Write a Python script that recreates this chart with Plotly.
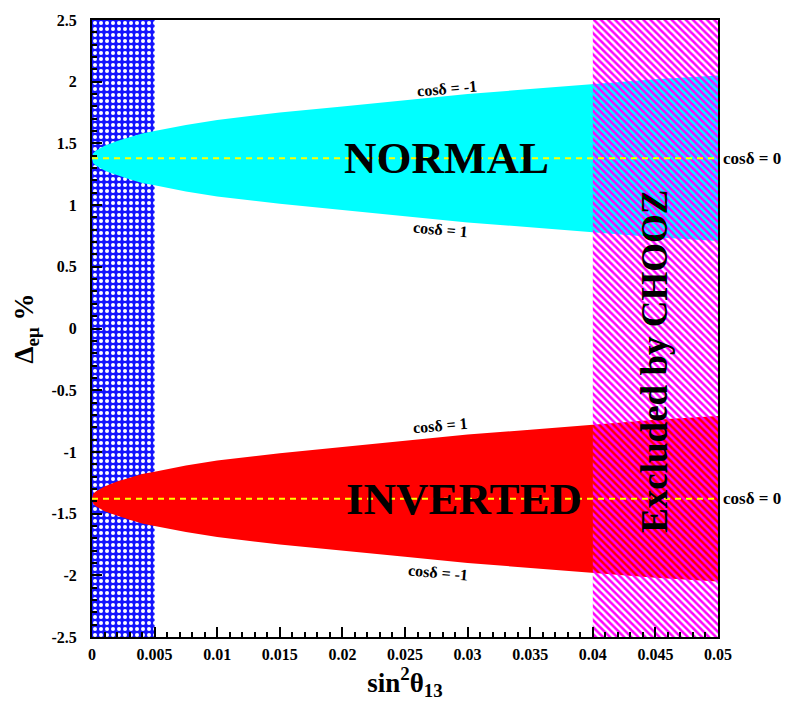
import plotly.graph_objects as go

# ---- data ----
s13 = [0, 0.0001, 0.0003, 0.0006, 0.001, 0.0015, 0.002, 0.003, 0.004, 0.005, 0.0075, 0.01,
       0.015, 0.02, 0.025, 0.03, 0.035, 0.04, 0.045, 0.05]
normal_upper = [1.38, 1.42, 1.44, 1.46, 1.48, 1.50, 1.52, 1.55, 1.58, 1.60, 1.65, 1.69,
                1.75, 1.80, 1.85, 1.90, 1.94, 1.98, 2.02, 2.05]
normal_lower = [1.38, 1.34, 1.32, 1.30, 1.28, 1.26, 1.24, 1.21, 1.18, 1.16, 1.11, 1.07,
                1.01, 0.96, 0.91, 0.86, 0.82, 0.78, 0.74, 0.71]
inverted_upper = [-1.38, -1.34, -1.32, -1.30, -1.28, -1.26, -1.24, -1.21, -1.18, -1.16, -1.11, -1.07,
                  -1.01, -0.96, -0.91, -0.86, -0.82, -0.78, -0.74, -0.71]
inverted_lower = [-1.38, -1.42, -1.44, -1.46, -1.48, -1.50, -1.52, -1.55, -1.58, -1.60, -1.65, -1.69,
                  -1.75, -1.80, -1.85, -1.90, -1.94, -1.98, -2.02, -2.05]
normal_center = 1.38
inverted_center = -1.38

blue_band = [0.0, 0.005]       # shaded blue region in sin^2(theta13)
chooz_band = [0.04, 0.05]      # excluded by CHOOZ
x_range = [0, 0.05]
y_range = [-2.5, 2.5]
x_ticks = [0, 0.005, 0.01, 0.015, 0.02, 0.025, 0.03, 0.035, 0.04, 0.045, 0.05]
x_ticklabels = ["0", "0.005", "0.01", "0.015", "0.02", "0.025", "0.03", "0.035", "0.04", "0.045", "0.05"]
y_ticks = [-2.5, -2, -1.5, -1, -0.5, 0, 0.5, 1, 1.5, 2, 2.5]
y_ticklabels = ["-2.5", "-2", "-1.5", "-1", "-0.5", "0", "0.5", "1", "1.5", "2", "2.5"]

SERIF = "Liberation Serif"

def rect(xr, yr):
    return [xr[0], xr[1], xr[1], xr[0], xr[0]], [yr[0], yr[0], yr[1], yr[1], yr[0]]

fig = go.Figure()

# blue dotted band
bx, by = rect(blue_band, y_range)
fig.add_trace(go.Scatter(x=bx, y=by, mode="lines", line=dict(width=0), fill="toself",
                         fillcolor="#1414ff",
                         fillpattern=dict(shape=".", fgcolor="white", bgcolor="#1414ff",
                                          size=6, solidity=0.35, fillmode="replace"),
                         hoverinfo="skip", showlegend=False))

# normal hierarchy band
fig.add_trace(go.Scatter(x=s13 + s13[::-1], y=normal_upper + normal_lower[::-1],
                         mode="lines", line=dict(width=0), fill="toself",
                         fillcolor="#00ffff", hoverinfo="skip", showlegend=False))
# inverted hierarchy band
fig.add_trace(go.Scatter(x=s13 + s13[::-1], y=inverted_upper + inverted_lower[::-1],
                         mode="lines", line=dict(width=0), fill="toself",
                         fillcolor="#ff0000", hoverinfo="skip", showlegend=False))

# CHOOZ excluded hatched band
cx, cy = rect(chooz_band, y_range)
fig.add_trace(go.Scatter(x=cx, y=cy, mode="lines", line=dict(width=0), fill="toself",
                         fillcolor="rgba(0,0,0,0)",
                         fillpattern=dict(shape="\\", fgcolor="#ff00ff", bgcolor="rgba(0,0,0,0)",
                                          size=5, solidity=0.5, fillmode="replace"),
                         hoverinfo="skip", showlegend=False))

# cos(delta)=0 dashed lines
for yc in (normal_center, inverted_center):
    fig.add_trace(go.Scatter(x=x_range, y=[yc, yc], mode="lines",
                             line=dict(color="#ffff00", width=2, dash="6px,5px"),
                             hoverinfo="skip", showlegend=False))

ann = []
ann.append(dict(x=0.02835, y=normal_center, text="NORMAL", showarrow=False,
                font=dict(family=SERIF, size=45, color="black", weight="bold")))
ann.append(dict(x=0.0297, y=inverted_center, text="INVERTED", showarrow=False,
                font=dict(family=SERIF, size=45, color="black", weight="bold")))
ann.append(dict(x=0.04497, y=-0.27, text="Excluded by CHOOZ", showarrow=False, textangle=-90,
                font=dict(family=SERIF, size=37, color="black", weight="bold")))
small = dict(family=SERIF, size=16, color="black", weight="bold")
ann.append(dict(x=0.02835, y=1.945, text="cosδ = -1", showarrow=False, textangle=-5, font=small))
ann.append(dict(x=0.0278, y=0.80, text="cosδ = 1", showarrow=False, textangle=5, font=small))
ann.append(dict(x=0.0278, y=-0.79, text="cosδ = 1", showarrow=False, textangle=-5, font=small))
ann.append(dict(x=0.0276, y=-1.98, text="cosδ = -1", showarrow=False, textangle=5, font=small))
right = dict(family=SERIF, size=17, color="black", weight="bold")
for yc in (normal_center, inverted_center):
    ann.append(dict(xref="paper", x=1.004, xanchor="left", y=yc, text="cosδ = 0",
                    showarrow=False, font=right))

fig.update_layout(
    width=788, height=708,
    margin=dict(l=92, r=70, t=15, b=71),
    paper_bgcolor="white", plot_bgcolor="white",
    annotations=ann,
    xaxis=dict(range=x_range, tickvals=x_ticks, ticktext=x_ticklabels,
               showgrid=False, zeroline=False, showline=True, linecolor="black", linewidth=2,
               mirror=True, ticks="inside", ticklen=10, tickwidth=1.5, tickcolor="black",
               minor=dict(dtick=0.001, ticks="inside", ticklen=5, tickcolor="black", tickwidth=1.5),
               ticklabelstandoff=2,
               tickfont=dict(family=SERIF, size=16, color="black", weight="bold"),
               title=dict(text="sin<sup>2</sup>θ<sub>13</sub>", standoff=10,
                          font=dict(family=SERIF, size=27, color="black", weight="bold"))),
    yaxis=dict(range=y_range, tickvals=y_ticks, ticktext=y_ticklabels,
               showgrid=False, zeroline=False, showline=True, linecolor="black", linewidth=2,
               mirror=True, ticks="inside", ticklen=10, tickwidth=1.5, tickcolor="black",
               minor=dict(dtick=0.1, ticks="inside", ticklen=5, tickcolor="black", tickwidth=1.5),
               ticklabelstandoff=10,
               tickfont=dict(family=SERIF, size=16, color="black", weight="bold"),
               title=dict(text="Δ<sub>eμ</sub> %", standoff=10,
                          font=dict(family=SERIF, size=27, color="black", weight="bold"))),
)

fig.write_html("out.html")
